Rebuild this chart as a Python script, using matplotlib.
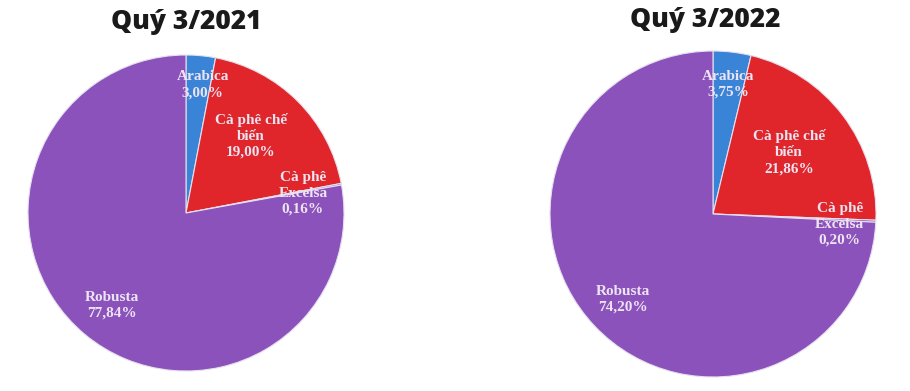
import numpy as np
import matplotlib.pyplot as plt

categories = ['Arabica', 'Cà phê chế\nbiến', 'Cà phê\nExcelsa', 'Robusta']
values_2021 = [3.00, 19.00, 0.16, 77.84]
values_2022 = [3.75, 21.86, 0.20, 74.20]
titles = ['Quý 3/2021', 'Quý 3/2022']

colors = ['#3a84d8', '#e0262a', '#8c52bc', '#8c52bc']

fig = plt.figure(figsize=(9.1, 3.91), dpi=100)

# axes boxes in pixels: (cx, cy from top, radius)
boxes = [(186, 213, 158), (713, 214, 163)]
# label distance / angle nudge per slice
label_pos = [
    [(0.82, -2), (0.64, 5), (0.75, -1), (0.75, 1)],
    [(0.80, 0), (0.60, 2), (0.78, -2), (0.76, 0)],
]

for i, vals in enumerate([values_2021, values_2022]):
    cx, cy, r = boxes[i]
    ax = fig.add_axes([(cx - r) / 910, (391 - cy - r) / 391, 2 * r / 910, 2 * r / 391])
    wedges, _ = ax.pie(vals, colors=colors, startangle=90, counterclock=False,
                       wedgeprops=dict(edgecolor='#e6e0ee', linewidth=0.8))
    ax.set_xlim(-1, 1)
    ax.set_ylim(-1, 1)
    ax.set_aspect('auto')
    for j, w in enumerate(wedges):
        d, nudge = label_pos[i][j]
        ang = np.deg2rad((w.theta1 + w.theta2) / 2 + nudge)
        pct = f"{vals[j]:.2f}%".replace('.', ',')
        ax.text(d * np.cos(ang), d * np.sin(ang), f"{categories[j]}\n{pct}",
                ha='center', va='center', fontsize=11, fontweight='bold',
                family='Liberation Serif', color='#ece4f2', linespacing=1.3)

fig.text(186 / 910, 1 - 22 / 391, titles[0], ha='center', va='center',
         fontsize=19, fontweight=800, family='Open Sans', color='#1a1a1a')
fig.text(705 / 910, 1 - 20 / 391, titles[1], ha='center', va='center',
         fontsize=19, fontweight=800, family='Open Sans', color='#1a1a1a')

fig.savefig('out.png', dpi=100)
